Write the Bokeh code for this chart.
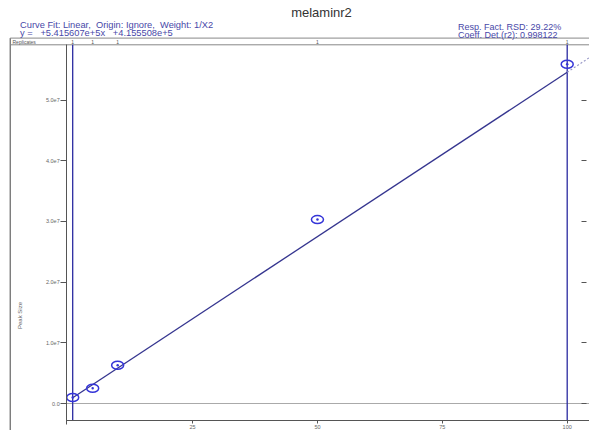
from bokeh.plotting import figure
from bokeh.models import Range1d, LinearAxis, FixedTicker
from bokeh.embed import file_html
from bokeh.resources import INLINE
from bokeh.core.properties import value

# ---------------- data ----------------
title_text = "melaminr2"
fit_text = "Curve Fit: Linear,\u00a0 Origin: Ignore,\u00a0 Weight: 1/X2"
eq_text = "y =\u00a0\u00a0 +5.415607e+5x\u00a0\u00a0 +4.155508e+5"
rsd_text = "Resp. Fact. RSD: 29.22%"
r2_text = "Coeff. Det.(r2): 0.998122"
rep_label = "Replicates"
y_title = "Peak Size"

conc = [1, 5, 10, 50, 100]
response = [1.0e6, 2.5e6, 6.3e6, 3.03e7, 5.59e7]
replicates = [1, 1, 1, 1, 1]
slope = 5.415607e5
intercept = 4.155508e5

x_ticks = [25, 50, 75, 100]
x_tick_labels = ["25", "50", "75", "100"]
y_ticks = [0, 10000000, 20000000, 30000000, 40000000, 50000000]
y_tick_labels = ["0.0", "1.0e7", "2.0e7", "3.0e7", "4.0e7", "5.0e7"]

# ---------------- layout (canvas pixels -> data) ----------------
W, H = 589, 430
SX = 4.995           # px per x unit
X0 = 67.2            # canvas x of x=0
SY = 60.7 / 1e7      # px per y unit
Y0 = 403             # canvas y of y=0


def X(px):
    return (px - X0) / SX


def Y(py):
    return (Y0 - py) / SY


x_start, x_end = X(0), X(W)
y_start, y_end = Y(H), Y(0)

FONT = value("Liberation Sans")
BLUE_TXT = "#4848a8"
AXIS_C = "#555555"

p = figure(width=W, height=H, output_backend="svg", toolbar_location=None,
           x_axis_type=None, y_axis_type=None,
           x_range=Range1d(x_start, x_end), y_range=Range1d(y_start, y_end),
           min_border=0, min_border_left=0, min_border_right=0,
           min_border_top=0, min_border_bottom=0)
p.outline_line_color = None
p.background_fill_color = "white"
p.border_fill_color = "white"

# axes drawn at fixed locations
x_axis_y = Y(420)
yaxis = LinearAxis(fixed_location=X(66.2), bounds=(Y(424), Y(44.3)),
                   ticker=FixedTicker(ticks=y_ticks),
                   major_label_overrides=dict(zip(y_ticks, y_tick_labels)))
yaxis.axis_line_color = AXIS_C
yaxis.major_tick_line_color = AXIS_C
yaxis.major_tick_out = 6
yaxis.major_tick_in = 0
yaxis.minor_tick_line_color = None
yaxis.major_label_text_font = "Liberation Sans"
yaxis.major_label_text_font_size = "5.5px"
yaxis.major_label_text_color = "#666666"
yaxis.major_label_standoff = 1
p.add_layout(yaxis, "left")

# right-hand inward ticks
raxis = LinearAxis(fixed_location=X(586), bounds=(Y(424), Y(44.3)),
                   ticker=FixedTicker(ticks=y_ticks))
raxis.axis_line_color = None
raxis.major_tick_line_color = AXIS_C
raxis.major_tick_out = 0
raxis.major_tick_in = 5
raxis.minor_tick_line_color = None
raxis.major_label_text_color = None
p.add_layout(raxis, "right")

xaxis = LinearAxis(fixed_location=x_axis_y, bounds=(X(66.2), x_end),
                   ticker=FixedTicker(ticks=x_ticks),
                   major_label_overrides=dict(zip(x_ticks, x_tick_labels)))
xaxis.axis_line_color = AXIS_C
xaxis.major_tick_line_color = AXIS_C
xaxis.major_tick_out = 3
xaxis.major_tick_in = 0
xaxis.minor_tick_line_color = None
xaxis.major_label_text_font = "Liberation Sans"
xaxis.major_label_text_font_size = "5.5px"
xaxis.major_label_text_color = "#666666"
xaxis.major_label_standoff = 1
p.add_layout(xaxis, "below")

# zero line
p.segment(x0=[X(66.2)], y0=[0], x1=[x_end], y1=[0], line_color="#aaaaaa", line_width=1)

# frame: left border and replicate strip
p.segment(x0=[X(9.7)], y0=[Y(37.6)], x1=[X(9.7)], y1=[Y(H)], line_color="#444444", line_width=1)
p.segment(x0=[X(9.7), X(9.7)], y0=[Y(37.6), Y(44.3)], x1=[x_end, x_end], y1=[Y(37.6), Y(44.3)],
          line_color="#888888", line_width=1)
p.text(x=[X(12)], y=[Y(41)], text=[rep_label], text_font=FONT, text_font_size="5px",
       text_color="#555555", text_baseline="middle", text_align="left")
p.text(x=conc, y=[Y(41)] * len(conc), text=[str(r) for r in replicates], text_font=FONT,
       text_font_size="5px", text_color="#555555", text_baseline="middle", text_align="center")

# calibration range lines
p.segment(x0=[min(conc), max(conc)], y0=[x_axis_y] * 2, x1=[min(conc), max(conc)], y1=[Y(44.3)] * 2,
          line_color="#2a2aa0", line_width=1.3)

# fit line
fx_solid = [min(conc), max(conc)]
p.line(x=fx_solid, y=[slope * v + intercept for v in fx_solid], line_color="#35358f", line_width=1.3)
fx_dash = [max(conc), x_end]
p.line(x=fx_dash, y=[slope * v + intercept for v in fx_dash], line_color="#9a9ac8",
       line_width=1.2, line_dash="2 2")

# points
p.ellipse(x=conc, y=response, width=12, height=8, width_units="screen", height_units="screen",
          fill_color=None, line_color="#3535d8", line_width=1.5)
p.scatter(x=conc, y=response, size=2.5, fill_color="#3535d8", line_color=None)

# header texts
p.text(x=[X(321)], y=[Y(11.6)], text=[title_text], text_font=FONT, text_font_size="13px",
       text_color="#333333", text_baseline="middle", text_align="center")
p.text(x=[X(19.5), X(19.5)], y=[Y(24), Y(32.5)], text=[fit_text, eq_text], text_font=FONT,
       text_font_size="9.3px", text_color=BLUE_TXT, text_baseline="middle", text_align="left")
p.text(x=[X(457.6), X(457.6)], y=[Y(26), Y(34.3)], text=[rsd_text, r2_text], text_font=FONT,
       text_font_size="9px", text_color=BLUE_TXT, text_baseline="middle", text_align="left")

# y title
p.text(x=[X(19.5)], y=[Y(315)], text=[y_title], text_font=FONT, text_font_size="6px",
       text_color="#666666", text_baseline="middle", text_align="center", angle=1.5708)

open("out.html", "w").write(file_html(p, INLINE))
